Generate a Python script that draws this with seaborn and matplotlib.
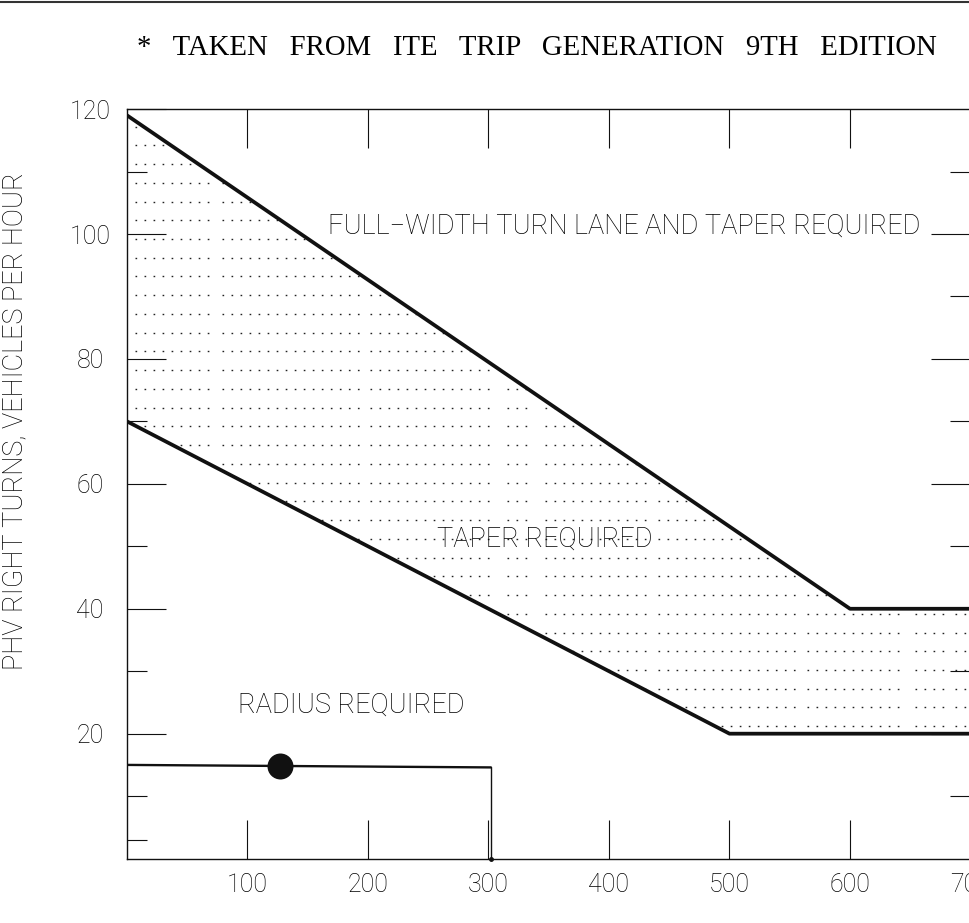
import numpy as np
import matplotlib
matplotlib.use("Agg")
import matplotlib.pyplot as plt
from matplotlib.lines import Line2D
import seaborn as sns

# ---------------- data ----------------
X_TICKS = [100, 200, 300, 400, 500, 600, 700]
X_TICK_LABELS = ["100", "200", "300", "400", "500", "600", "700"]
Y_TICKS = [20, 40, 60, 80, 100, 120]
Y_TICK_LABELS = ["20", "40", "60", "80", "100", "120"]
Y_MINOR_LEFT = [3, 10, 30, 50, 70, 110]
Y_MAJOR_RIGHT = [20, 40, 60, 80, 100]
Y_MINOR_RIGHT = [10, 30, 50, 70, 90, 110]

# upper boundary: full-width turn lane and taper required
UPPER_X = [0, 600, 700]
UPPER_Y = [119, 40, 40]
# lower boundary: taper required
LOWER_X = [0, 500, 700]
LOWER_Y = [70, 20, 20]
# radius-required line
RADIUS_X = [0, 302, 302]
RADIUS_Y = [15, 14.6, 0]
# plotted point
POINT_X = [127]
POINT_Y = [14.85]

TITLE = "*   TAKEN   FROM   ITE   TRIP   GENERATION   9TH   EDITION"
YLABEL = "PHV RIGHT TURNS, VEHICLES PER HOUR"
LABELS = ["FULL\u2212WIDTH TURN LANE AND TAPER REQUIRED", "TAPER REQUIRED", "RADIUS REQUIRED"]
LABEL_X = [167, 257, 92]
LABEL_Y = [100, 50, 23.3]

# hatch (CAD dotted fill) bands, in x units
HATCH_BANDS = [(6.6, 70.5), (78.8, 193), (201.7, 301), (315, 336), (347, 432),
               (441, 556), (564, 641), (654, 679), (687, 705)]
HATCH_ROWS = np.arange(21.2, 119, 3.0)

# ---------------- style ----------------
sns.set_style("ticks")
plt.rcParams["font.family"] = ["Roboto", "DejaVu Sans"]
INK = "#111111"
TXT = "#000000"

fig = plt.figure(figsize=(9.7, 9.23), dpi=100)
W, H = 970.0, 923.0
ax = fig.add_axes([127 / W, 64.4 / H, 843.5 / W, 749.5 / H])
ax.set_xlim(0, 700)
ax.set_ylim(0, 120)

# hatch clipped to the region between the boundaries
xg = np.array([0, 500, 600, 700], dtype=float)
up = np.interp(xg, UPPER_X, UPPER_Y)
lo = np.interp(xg, LOWER_X, LOWER_Y)
region = ax.fill_between(xg, lo, up, color="none", lw=0)
clip_path = region.get_paths()[0]
for (x0, x1) in HATCH_BANDS:
    hl = ax.hlines(HATCH_ROWS, x0, x1, colors="#222222", linewidth=1.0,
                   linestyles=[(0, (1.2, 5.3))])
    hl.set_clip_path(clip_path, ax.transData)

# boundary lines
sns.lineplot(x=UPPER_X, y=UPPER_Y, ax=ax, sort=False, estimator=None,
             color=INK, linewidth=2.7)
sns.lineplot(x=LOWER_X, y=LOWER_Y, ax=ax, sort=False, estimator=None,
             color=INK, linewidth=2.7)
sns.lineplot(x=RADIUS_X[:2], y=RADIUS_Y[:2], ax=ax, sort=False, estimator=None,
             color=INK, linewidth=1.7)
sns.lineplot(x=RADIUS_X[1:], y=RADIUS_Y[1:], ax=ax, sort=False, estimator=None,
             color=INK, linewidth=1.0)
ax.plot(RADIUS_X[-1:], RADIUS_Y[-1:], marker="o", ms=2.5, color=INK, clip_on=False)
sns.scatterplot(x=POINT_X, y=POINT_Y, ax=ax, s=300, color="#111111",
                edgecolor="#111111", zorder=5)

# texts
for t, x, y in zip(LABELS, LABEL_X, LABEL_Y):
    ax.text(x, y, t, fontsize=19.5, color=TXT, ha="left", va="baseline",
            fontweight="light", zorder=6)

# axes / ticks
for s in ["left", "bottom", "top"]:
    ax.spines[s].set_visible(True)
    ax.spines[s].set_linewidth(1.0)
    ax.spines[s].set_color(INK)
ax.spines["right"].set_visible(False)

ax.set_xticks(X_TICKS)
ax.set_xticklabels(X_TICK_LABELS)
ax.tick_params(axis="x", which="major", top=True, bottom=True, direction="in",
               length=28, width=0.8, color=INK, pad=10.4, labelsize=18,
               labelcolor=TXT)
ax.set_yticks(Y_TICKS)
ax.set_yticklabels(Y_TICK_LABELS)
ax.set_yticks(Y_MINOR_LEFT, minor=True)
ax.tick_params(axis="y", which="major", left=True, right=False, direction="in",
               length=28, width=0.8, color=INK, pad=26.6, labelsize=18,
               labelcolor=TXT)
ax.tick_params(axis="y", which="minor", left=True, right=False, direction="in",
               length=14.4, width=0.8, color=INK)
for lbl in ax.get_yticklabels():
    lbl.set_horizontalalignment("center")
for lbl in ax.get_xticklabels() + ax.get_yticklabels():
    lbl.set_fontweight("light")
ax.set_xlabel("")
ax.set_ylabel("")

ax2 = ax.twinx()
ax2.set_ylim(0, 120)
ax2.set_yticks(Y_MAJOR_RIGHT)
ax2.set_yticks(Y_MINOR_RIGHT, minor=True)
ax2.tick_params(axis="y", which="major", direction="in", length=28, width=0.8,
                color=INK, labelright=False, right=True, left=False)
ax2.tick_params(axis="y", which="minor", direction="in", length=14.4, width=0.8,
                color=INK, labelright=False, right=True, left=False)
for s in ax2.spines.values():
    s.set_visible(False)

# figure-level text
fig.text(15 / W, 1 - 421 / H, YLABEL, rotation=90, ha="center", va="center",
         fontsize=19.5, color=TXT, fontweight="light")
fig.text(137 / W, 1 - 55 / H, TITLE, ha="left", va="baseline", fontsize=20.7,
         color=TXT, family=["Liberation Serif", "DejaVu Serif"])
fig.add_artist(Line2D([0, 1], [1 - 1.5 / H, 1 - 1.5 / H], transform=fig.transFigure,
                      color="#333333", linewidth=1.5))

fig.savefig("out.png", dpi=100)
